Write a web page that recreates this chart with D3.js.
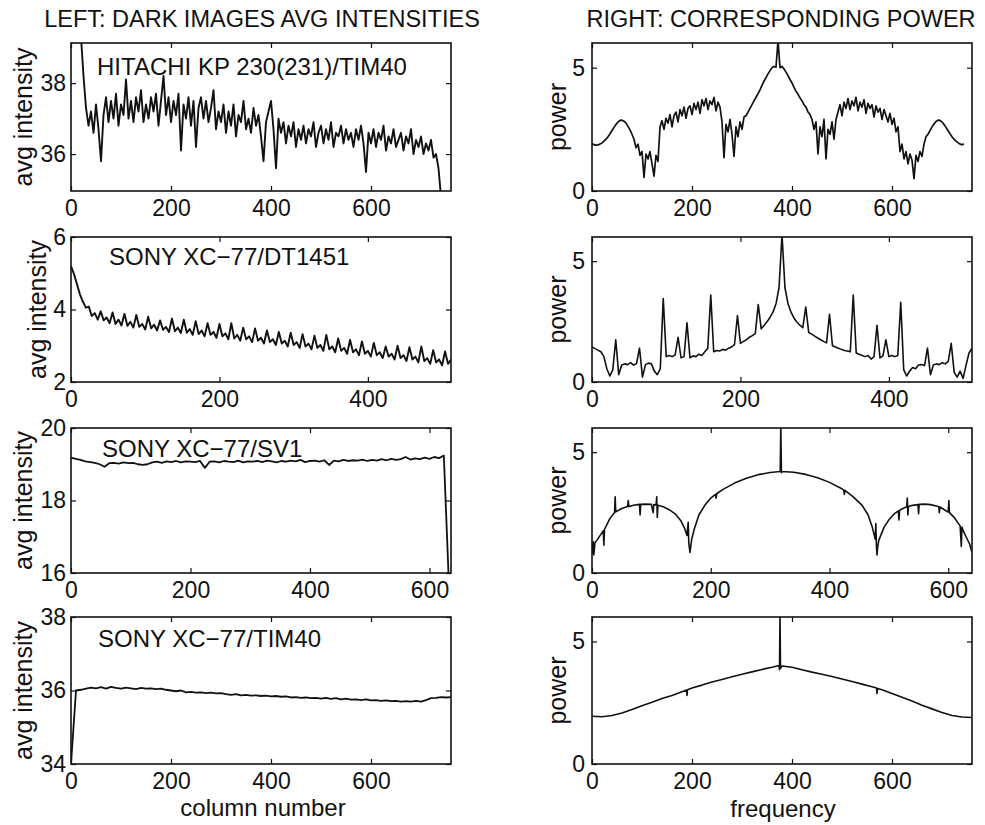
<!DOCTYPE html>
<html>
<head>
<meta charset="utf-8">
<script src="https://cdn.jsdelivr.net/npm/d3@7"></script>
<style>
  body { margin: 0; background: #fff; }
  text { font-family: "Liberation Sans", Arial, Helvetica, sans-serif; fill: #111; }
</style>
</head>
<body>
<div id="wrapper"></div>
<script>
/* global d3 */

// ---- data ----
// left column: average intensity per column
const hitachiAvg = [ // columns 15..740, every 5
  39.9, 39.3, 38.2, 37.3, 36.8, 37.2, 36.6, 37.4, 36.7, 35.8,
  37.1, 37.6, 36.9, 37.5, 37.0, 37.7, 36.8, 37.4, 37.1, 38.1,
  37.0, 37.5, 36.9, 37.6, 37.2, 37.8, 36.9, 37.4, 37.0, 37.6,
  37.2, 37.7, 36.8, 37.5, 38.2, 37.1, 37.6, 36.9, 37.5, 37.1,
  37.7, 36.1, 37.4, 37.0, 37.6, 36.8, 37.5, 36.2, 37.3, 37.6,
  37.0, 37.5, 36.9, 37.3, 37.8, 36.7, 37.2, 36.9, 37.4, 36.6,
  37.2, 36.8, 37.4, 36.5, 37.1, 36.9, 37.5, 36.7, 37.0, 36.6,
  37.3, 36.8, 37.1, 36.5, 35.8, 36.9, 37.2, 37.5, 36.7, 35.6,
  37.0, 36.6, 36.9, 36.3, 36.8, 36.5, 36.9, 36.2, 36.7, 36.4,
  36.8, 36.3, 36.7, 36.5, 36.9, 36.2, 36.6, 36.8, 36.3, 36.7,
  36.4, 36.9, 36.2, 36.6, 36.5, 36.8, 36.3, 36.7, 36.4, 36.6,
  36.2, 36.7, 36.4, 36.8, 36.3, 35.5, 36.6, 36.3, 36.7, 36.2,
  36.6, 36.4, 36.8, 36.1, 36.5, 36.3, 36.7, 36.2, 36.4, 36.6,
  36.1, 36.5, 36.3, 36.7, 36.0, 36.4, 36.2, 36.5, 36.0, 36.3,
  36.1, 36.4, 35.9, 36.0, 35.6, 34.8
]
const dt1451Avg = [ // columns 0..512, every 4
  5.2, 4.98, 4.7, 4.42, 4.22, 4.05, 4.08, 3.82, 3.9, 3.72,
  3.95, 3.7, 3.78, 3.62, 3.92, 3.6, 3.72, 3.56, 3.88, 3.55,
  3.66, 3.5, 3.85, 3.52, 3.6, 3.45, 3.8, 3.48, 3.58, 3.42,
  3.7, 3.44, 3.52, 3.38, 3.75, 3.4, 3.5, 3.35, 3.72, 3.36,
  3.46, 3.3, 3.68, 3.32, 3.42, 3.26, 3.62, 3.3, 3.38, 3.22,
  3.6, 3.26, 3.34, 3.18, 3.62, 3.2, 3.3, 3.14, 3.5, 3.18,
  3.26, 3.1, 3.48, 3.14, 3.22, 3.06, 3.42, 3.1, 3.18, 3.02,
  3.38, 3.06, 3.14, 2.98, 3.36, 3.02, 3.1, 2.94, 3.32, 2.98,
  3.06, 2.9, 3.28, 2.94, 3.02, 2.86, 3.3, 2.9, 2.98, 2.82,
  3.2, 2.86, 2.94, 2.78, 3.16, 2.82, 2.9, 2.74, 3.12, 2.78,
  2.86, 2.7, 3.08, 2.74, 2.82, 2.66, 2.98, 2.7, 2.78, 2.62,
  3.0, 2.66, 2.74, 2.58, 2.96, 2.62, 2.7, 2.54, 2.98, 2.58,
  2.66, 2.5, 2.88, 2.54, 2.62, 2.46, 2.84, 2.5, 2.62
]
const sv1Avg = [ // columns 0..632, every 8
  19.18, 19.15, 19.12, 19.08, 19.06, 19.04, 19.0, 18.93, 19.03, 19.04,
  19.02, 19.05, 19.03, 19.04, 19.0, 18.98, 19.0, 19.05, 19.07, 19.04,
  19.08, 19.06, 19.09, 19.05, 19.08, 19.07, 19.06, 19.09, 18.9, 19.07,
  19.08, 19.05, 19.09, 19.07, 19.06, 19.1, 19.05, 19.08, 19.07, 19.09,
  19.06, 19.1, 19.08, 19.05, 19.09, 19.07, 19.1, 19.08, 19.12, 19.06,
  19.09, 19.1, 19.07, 19.11, 18.98, 19.1, 19.08, 19.12, 19.09, 19.11,
  19.1, 19.13, 19.09, 19.12, 19.1, 19.14, 19.11, 19.15, 19.12, 19.14,
  19.2, 19.13, 19.16, 19.14, 19.18, 19.15, 19.2, 19.17, 19.24, 15.9
]
const tim40Avg = [ // columns 0..760, every 10
  34.0, 36.0, 36.02, 36.05, 36.08, 36.06, 36.09, 36.05, 36.1, 36.07,
  36.05, 36.08, 36.06, 36.04, 36.07, 36.05, 36.06, 36.04, 36.05, 36.02,
  36.0, 35.98, 36.0, 35.95, 35.96, 35.94, 35.95, 35.93, 35.94, 35.92,
  35.93, 35.9, 35.88, 35.9, 35.87, 35.88, 35.86, 35.87, 35.85, 35.86,
  35.84, 35.85, 35.83, 35.84, 35.81, 35.82, 35.8, 35.81, 35.79, 35.8,
  35.78, 35.8, 35.77, 35.79, 35.76, 35.78, 35.75, 35.76, 35.74, 35.76,
  35.73, 35.74, 35.72, 35.73, 35.71, 35.72, 35.7, 35.71, 35.7, 35.72,
  35.7, 35.74, 35.79, 35.8, 35.82, 35.81, 35.82
]

// right column: power spectra
const hitachiPower = [ // frequencies 0..744, every 4
  1.92, 1.88, 1.86, 1.87, 1.9, 1.95, 2.02, 2.1, 2.2, 2.32,
  2.45, 2.58, 2.7, 2.8, 2.86, 2.87, 2.83, 2.75, 2.62, 2.48, 2.3,
  2.1, 1.75, 1.9, 1.45, 1.6, 0.55, 1.5, 1.3, 1.6, 1.1, 0.6, 1.45, 1.2,
  2.6, 2.85, 2.5, 2.95, 2.75, 3.1, 2.6, 3.05, 3.2, 2.8, 3.3, 3.05, 3.4, 2.95, 3.35, 3.45,
  3.1, 3.55, 3.3, 3.6, 3.15, 3.7, 3.45, 3.75, 3.3, 3.65, 3.5, 3.8, 3.25, 3.6, 3.4,
  2.8, 1.35, 2.7, 2.4, 2.9, 2.3, 1.4, 2.6, 2.2, 2.8, 2.5,
  3.0, 3.05, 3.2, 3.35, 3.5, 3.65, 3.8, 3.95, 4.1, 4.28, 4.45, 4.6, 4.75, 4.88, 5.0, 5.05, 5.02,
  6.1, 5.0, 5.05, 4.95, 4.82, 4.68, 4.52, 4.38, 4.2, 4.05, 3.92, 3.78, 3.65, 3.5, 3.4, 3.2, 3.1, 2.9,
  2.5, 2.8, 1.5, 2.6, 2.2, 2.9, 1.3, 2.5, 2.3, 2.8, 2.1, 2.9,
  3.2, 3.5, 3.05, 3.6, 3.35, 3.75, 3.3, 3.65, 3.45, 3.8, 3.25, 3.6, 3.4, 3.7, 3.15, 3.55,
  3.35, 3.5, 3.0, 3.45, 3.2, 3.35, 2.9, 3.3, 3.05, 2.8, 3.15, 2.7, 2.95, 2.4, 2.6,
  1.6, 1.9, 1.3, 1.6, 1.1, 1.5, 1.25, 0.5, 1.45, 1.2, 1.6, 1.4, 1.9,
  2.2, 2.3, 2.45, 2.6, 2.72, 2.82, 2.87, 2.86, 2.8, 2.7,
  2.58, 2.45, 2.32, 2.2, 2.1, 2.02, 1.96, 1.9, 1.88, 1.9
]
const dt1451Power = [ // frequencies 0..512, every 4
  1.45, 1.38, 1.32, 1.25, 1.05, 0.55, 0.25, 0.5, 1.75, 0.3,
  0.7, 0.75, 0.72, 0.8, 0.7, 0.76, 1.4, 0.2, 0.72, 0.78,
  0.75, 0.45, 0.3, 0.55, 3.45, 1.05, 1.1, 1.05, 1.12, 1.85,
  1.0, 1.05, 2.45, 1.0, 1.08, 1.05, 1.15, 1.1, 1.25, 1.4,
  3.6, 1.25, 1.3, 1.28, 1.35, 1.32, 1.4, 1.45, 1.55, 2.75,
  1.6, 1.68, 1.75, 1.85, 1.92, 2.0, 3.2, 2.2, 2.35, 2.5,
  2.68, 2.9, 3.25, 3.9, 6.1, 3.9, 3.25, 2.9, 2.65, 2.48,
  2.35, 2.25, 3.1, 2.05, 1.98, 1.9, 1.82, 1.75, 1.68, 1.62,
  2.8, 1.5, 1.45, 1.4, 1.35, 1.3, 1.28, 1.25, 3.6, 1.2,
  1.15, 1.1, 1.05, 1.1, 0.95, 1.05, 2.35, 1.0, 1.08, 1.75,
  1.05, 1.1, 1.05, 1.1, 3.3, 0.5, 0.25, 0.45, 0.6, 0.55,
  0.7, 0.72, 0.68, 1.4, 0.3, 0.7, 0.75, 0.72, 0.8, 0.75,
  0.85, 1.6, 0.4, 0.2, 0.45, 0.15, 0.7, 1.2, 1.4
]
const sv1PowerFreq = [
  0, 2, 3, 5, 8, 15, 19, 20, 21, 30, 38, 39, 40, 50, 60, 61, 62, 70, 80, 81, 82, 90,
  100, 103, 104, 108, 109, 110, 111, 120, 130, 140, 150, 156, 160, 162, 163, 165, 166,
  168, 172, 180, 190, 200, 208, 209, 210, 220, 240, 260, 280, 300, 317, 318, 319, 320,
  340, 360, 380, 400, 420, 424, 425, 426, 440, 455, 465, 472, 477, 478, 479, 480, 481,
  483, 487, 492, 500, 510, 516, 517, 518, 520, 530, 531, 532, 533, 540, 549, 550, 551,
  560, 570, 580, 584, 585, 586, 590, 600, 601, 602, 610, 620, 622, 623, 625, 630, 636, 640
]
const sv1Power = [
  0.8, 1.3, 0.75, 1.25, 1.35, 1.6, 1.75, 1.15, 1.8, 2.25, 2.5, 3.15, 2.53, 2.67, 2.75, 3.0, 2.75, 2.8, 2.84, 2.4, 2.84, 2.85,
  2.84, 2.5, 2.83, 2.82, 3.15, 2.3, 2.8, 2.74, 2.62, 2.45, 2.15, 1.85, 1.55, 2.1, 1.25, 0.85, 1.05,
  1.4, 1.8, 2.4, 2.8, 3.1, 3.25, 3.1, 3.28, 3.45, 3.72, 3.92, 4.07, 4.16, 4.2, 6.1, 4.15, 4.2,
  4.17, 4.08, 3.94, 3.75, 3.5, 3.43, 3.25, 3.42, 3.15, 2.8, 2.4, 1.9, 1.4, 2.05, 1.15, 0.75, 1.05,
  1.35, 1.6, 1.9, 2.2, 2.47, 2.57, 2.2, 2.58, 2.63, 2.74, 3.1, 2.4, 2.75, 2.8, 2.83, 2.45, 2.84,
  2.85, 2.83, 2.77, 2.74, 2.5, 2.73, 2.67, 2.52, 3.0, 2.5, 2.3, 1.95, 1.1, 1.9, 1.75, 1.5, 1.2, 0.85
]
const tim40PowerFreq = [
  0, 20, 40, 60, 80, 100, 120, 140, 160, 180, 189, 190, 191, 200, 220, 240, 260, 280, 300,
  320, 340, 360, 374, 375, 376, 377, 380, 400, 420, 440, 460, 480, 500, 520, 540, 560,
  569, 570, 571, 580, 600, 620, 640, 660, 680, 700, 720, 740, 760
]
const tim40Power = [
  1.95, 1.93, 1.98, 2.08, 2.22, 2.38, 2.52, 2.67, 2.8, 2.95, 3.02, 2.8, 3.03, 3.1, 3.22, 3.35, 3.45, 3.56, 3.66,
  3.76, 3.86, 3.95, 4.02, 3.85, 6.1, 3.9, 4.0, 3.95, 3.85, 3.75, 3.66, 3.57, 3.47, 3.37, 3.26, 3.15,
  3.1, 2.88, 3.08, 3.03, 2.88, 2.72, 2.57, 2.4, 2.25, 2.1, 1.98, 1.92, 1.9
]

const panelTitles = ["HITACHI KP 230(231)/TIM40", "SONY XC\u221277/DT1451", "SONY XC\u221277/SV1", "SONY XC\u221277/TIM40"]
const leftYTicks = [[36, 38], [2, 4, 6], [16, 18, 20], [34, 36, 38]]
const leftYDomains = [[34.96, 39.13], [2, 6], [16, 20], [34, 38]]
const xMax = [760, 512, 636, 760]
const rightXMax = [760, 512, 640, 760]
const leftXTicks = [[0, 200, 400, 600], [0, 200, 400], [0, 200, 400, 600], [0, 200, 400, 600]]
const powerYTicks = [0, 5]

// ---- layout ----
const width = 985
const height = 825
const colX = [[71, 451], [592, 972]]
const rowTop = [43, 237, 428, 617]
const rowBottom = [191, 382, 573, 764]
const tickFont = 23
const labelFont = 24

const svg = d3.select("#wrapper").append("svg")
    .attr("width", width)
    .attr("height", height)

svg.append("text").attr("x", 262).attr("y", 27).attr("text-anchor", "middle")
    .attr("font-size", 23.5).text("LEFT: DARK IMAGES AVG INTENSITIES")
svg.append("text").attr("x", 781).attr("y", 27).attr("text-anchor", "middle")
    .attr("font-size", 23.5).text("RIGHT: CORRESPONDING POWER")

const byStep = (vals, start, step) => vals.map((v, i) => [start + i * step, v])
const pairs = (xs, ys) => xs.map((x, i) => [x, ys[i]])

const series = [
  { side: 0, row: 0, data: byStep(hitachiAvg, 15, 5), w: 1.9 },
  { side: 0, row: 1, data: byStep(dt1451Avg, 0, 4), w: 1.9 },
  { side: 0, row: 2, data: byStep(sv1Avg, 0, 8), w: 1.8 },
  { side: 0, row: 3, data: byStep(tim40Avg, 0, 10), w: 1.8 },
  { side: 1, row: 0, data: byStep(hitachiPower, 0, 4), w: 1.7 },
  { side: 1, row: 1, data: byStep(dt1451Power, 0, 4), w: 1.6 },
  { side: 1, row: 2, data: pairs(sv1PowerFreq, sv1Power), w: 1.6 },
  { side: 1, row: 3, data: pairs(tim40PowerFreq, tim40Power), w: 1.6 },
]

function styleAxis(g) {
  g.select(".domain").remove()
  g.attr("font-size", tickFont).attr("font-family", null)
  g.selectAll("line").attr("stroke", "#111").attr("stroke-width", 1.2)
}

series.forEach((s, k) => {
  const [x0, x1] = colX[s.side]
  const y0 = rowTop[s.row]
  const y1 = rowBottom[s.row]
  const xScale = d3.scaleLinear()
      .domain([0, s.side ? rightXMax[s.row] : xMax[s.row]])
      .range([x0, x1])
  const yScale = d3.scaleLinear()
      .domain(s.side ? [0, 6] : leftYDomains[s.row])
      .range([y1, y0])
  const xTicks = s.side ? (s.row === 1 ? [0, 200, 400] : [0, 200, 400, 600]) : leftXTicks[s.row]
  const yTicks = s.side ? powerYTicks : leftYTicks[s.row]

  const g = svg.append("g")

  svg.append("clipPath").attr("id", "clip" + k)
    .append("rect").attr("x", x0).attr("y", y0).attr("width", x1 - x0).attr("height", y1 - y0)

  // axes with inward ticks on all four sides
  g.append("g").attr("transform", `translate(0,${y1})`)
      .call(d3.axisBottom(xScale).tickValues(xTicks).tickSize(-5).tickPadding(9).tickFormat(d3.format("d")))
      .call(styleAxis)
  g.append("g").attr("transform", `translate(0,${y0})`)
      .call(d3.axisTop(xScale).tickValues(xTicks).tickSize(-5).tickFormat(""))
      .call(styleAxis)
  g.append("g").attr("transform", `translate(${x0},0)`)
      .call(d3.axisLeft(yScale).tickValues(yTicks).tickSize(-5).tickPadding(s.side ? 7 : 5).tickFormat(d3.format("d")))
      .call(styleAxis)
  g.append("g").attr("transform", `translate(${x1},0)`)
      .call(d3.axisRight(yScale).tickValues(yTicks).tickSize(-5).tickFormat(""))
      .call(styleAxis)

  const line = d3.line()
      .x(d => xScale(d[0]))
      .y(d => yScale(d[1]))

  g.append("path")
      .datum(s.data)
      .attr("clip-path", `url(#clip${k})`)
      .attr("fill", "none")
      .attr("stroke", "#111")
      .attr("stroke-width", s.w)
      .attr("stroke-linejoin", "round")
      .attr("d", line)

  g.append("rect")
      .attr("x", x0).attr("y", y0)
      .attr("width", x1 - x0).attr("height", y1 - y0)
      .attr("fill", "none").attr("stroke", "#111").attr("stroke-width", 1.6)

  // y label
  const ly = (y0 + y1) / 2
  const lx = s.side ? 566 : (s.row === 1 ? 46 : 32)
  g.append("text")
      .attr("transform", `translate(${lx},${ly}) rotate(-90)`)
      .attr("text-anchor", "middle")
      .attr("font-size", 25)
      .text(s.side ? "power" : "avg intensity")

  if (!s.side) {
    g.append("text")
        .attr("x", [97, 109, 102, 98][s.row])
        .attr("y", y0 + [32, 28, 29, 30][s.row])
        .attr("font-size", labelFont)
        .text(panelTitles[s.row])
  }
})

svg.append("text").attr("x", 263).attr("y", 816).attr("text-anchor", "middle")
    .attr("font-size", labelFont).text("column number")
svg.append("text").attr("x", 783).attr("y", 817).attr("text-anchor", "middle")
    .attr("font-size", labelFont).text("frequency")
</script>
</body>
</html>
